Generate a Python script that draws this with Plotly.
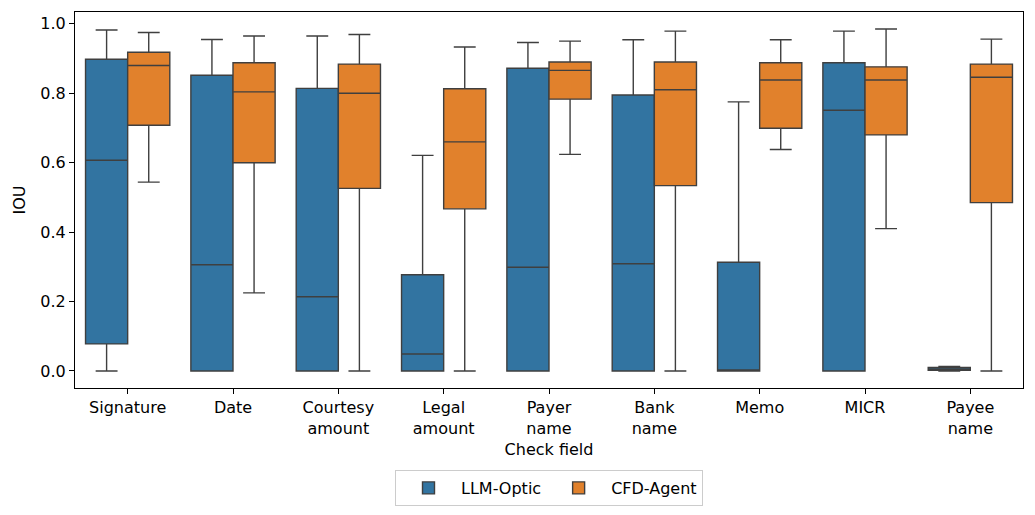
import plotly.graph_objects as go

categories = ["Signature", "Date", "Courtesy<br>amount", "Legal<br>amount", "Payer<br>name",
              "Bank<br>name", "Memo", "MICR", "Payee<br>name"]

llm_lower = [0.0, 0.0, 0.0, 0.0, 0.0, 0.0, 0.0, 0.0, 0.0]
llm_q1 = [0.078, 0.0, 0.0, 0.0, 0.0, 0.0, 0.0, 0.0, 0.002]
llm_median = [0.607, 0.306, 0.214, 0.049, 0.299, 0.309, 0.002, 0.751, 0.005]
llm_q3 = [0.898, 0.852, 0.814, 0.277, 0.872, 0.795, 0.313, 0.888, 0.010]
llm_upper = [0.982, 0.955, 0.965, 0.621, 0.946, 0.954, 0.775, 0.979, 0.013]

cfd_lower = [0.544, 0.225, 0.0, 0.0, 0.624, 0.0, 0.638, 0.410, 0.0]
cfd_q1 = [0.708, 0.600, 0.526, 0.467, 0.783, 0.534, 0.699, 0.680, 0.485]
cfd_median = [0.880, 0.804, 0.800, 0.660, 0.866, 0.810, 0.838, 0.838, 0.846]
cfd_q3 = [0.918, 0.888, 0.884, 0.813, 0.890, 0.890, 0.888, 0.876, 0.884]
cfd_upper = [0.975, 0.965, 0.969, 0.933, 0.950, 0.979, 0.954, 0.985, 0.956]

line_col = "#3f3f3f"
font = "DejaVu Sans"
fs = 16

fig = go.Figure()
fig.add_trace(go.Box(
    name="LLM-Optic", x=categories, q1=llm_q1, median=llm_median, q3=llm_q3,
    lowerfence=llm_lower, upperfence=llm_upper, fillcolor="#3274a1",
    line=dict(color=line_col, width=1.4), whiskerwidth=0.52, boxpoints=False,
))
fig.add_trace(go.Box(
    name="CFD-Agent", x=categories, q1=cfd_q1, median=cfd_median, q3=cfd_q3,
    lowerfence=cfd_lower, upperfence=cfd_upper, fillcolor="#e1812c",
    line=dict(color=line_col, width=1.4), whiskerwidth=0.52, boxpoints=False,
))

fig.update_layout(
    width=1027, height=507,
    margin=dict(l=67, r=12, t=4, b=127),
    paper_bgcolor="white", plot_bgcolor="white",
    boxmode="group", boxgap=0.2, boxgroupgap=0.0,
    font=dict(family=font, size=fs, color="black"),
    showlegend=True,
    legend=dict(orientation="h", x=0.5, xanchor="center", y=-0.266, yanchor="middle",
                bordercolor="#cccccc", borderwidth=1, font=dict(size=fs), itemwidth=55),
)
fig.update_xaxes(
    title=dict(text="Check field", standoff=6, font=dict(size=fs)),
    showline=True, linecolor="black", linewidth=1, mirror=True,
    ticks="outside", ticklen=5, tickcolor="black", showgrid=False,
    range=[-0.5, 8.5], tickangle=0, tickfont=dict(size=fs),
)
fig.update_yaxes(
    title=dict(text="IOU", standoff=10, font=dict(size=fs)),
    showline=True, linecolor="black", linewidth=1, mirror=True,
    ticks="outside", ticklen=5, tickcolor="black", showgrid=False, zeroline=False,
    range=[-0.049, 1.034], tickvals=[0, 0.2, 0.4, 0.6, 0.8, 1.0], tickformat=".1f",
    tickfont=dict(size=fs),
)

fig.write_html("out.html")
